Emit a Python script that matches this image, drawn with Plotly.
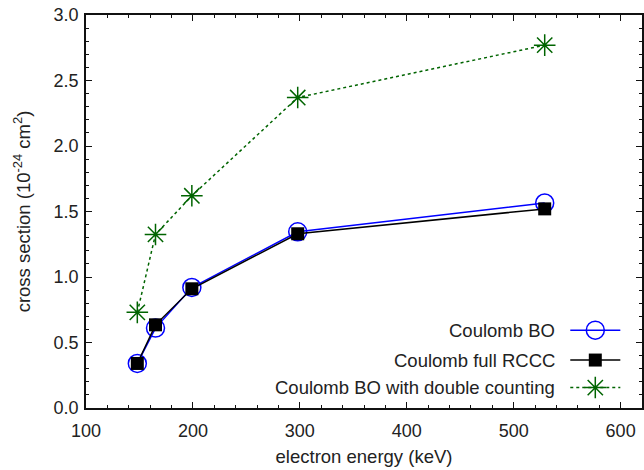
import plotly.graph_objects as go

# ---- data ----
energy = [148, 165, 199, 298, 529]
bo = [0.34, 0.61, 0.92, 1.345, 1.565]
rccc = [0.34, 0.635, 0.91, 1.33, 1.52]
bo_dc = [0.73, 1.325, 1.62, 2.37, 2.77]
names = ["Coulomb BO", "Coulomb full RCCC", "Coulomb BO with double counting"]
x_ticks = [100, 200, 300, 400, 500, 600]

BLUE = "#0000ff"
BLACK = "#000000"
GREEN = "#006400"
TXT = "#222222"
FONT = "Liberation Sans, Arial, sans-serif"

styles = [
    dict(line=dict(color=BLUE, width=1.5),
         marker=dict(symbol="circle-open", size=18, color=BLUE, line=dict(width=1.5, color=BLUE))),
    dict(line=dict(color=BLACK, width=1.5),
         marker=dict(symbol="square", size=13, color=BLACK, line=dict(width=0))),
    dict(line=dict(color=GREEN, width=1.5, dash="dot"),
         marker=dict(symbol="asterisk-open", size=18, color=GREEN, line=dict(width=1.5, color=GREEN))),
]

fig = go.Figure()
for ys, name, st in zip([bo, rccc, bo_dc], names, styles):
    fig.add_trace(go.Scatter(x=energy, y=ys, name=name, mode="lines+markers",
                             showlegend=False, cliponaxis=False, **st))

# legend (gnuplot style: text on the left, sample on the right), drawn on an overlay axis
leg_rows = [0.198, 0.122, 0.052]
leg_x0, leg_x1, leg_text_x = 0.871, 0.961, 0.848
for name, st, yy in zip(names, styles, leg_rows):
    fig.add_trace(go.Scatter(x=[leg_x0, leg_x1], y=[yy, yy], mode="lines", line=st["line"],
                             xaxis="x2", yaxis="y2", showlegend=False, hoverinfo="skip"))
    fig.add_trace(go.Scatter(x=[(leg_x0 + leg_x1) / 2], y=[yy], mode="markers", marker=st["marker"],
                             xaxis="x2", yaxis="y2", showlegend=False, hoverinfo="skip"))
    fig.add_annotation(x=leg_text_x, y=yy, xref="paper", yref="paper", text=name,
                       showarrow=False, xanchor="right", yanchor="middle",
                       font=dict(family=FONT, size=18.5, color=TXT))

axis_common = dict(
    showline=True, linecolor="#111111", linewidth=1.5, mirror="allticks",
    ticks="inside", ticklen=6, tickwidth=1, tickcolor="#111111",
    showgrid=False, zeroline=False,
    tickfont=dict(family=FONT, size=18, color=TXT),
)

fig.update_layout(
    width=644, height=470,
    margin=dict(l=86, r=0, t=15, b=62),
    plot_bgcolor="white", paper_bgcolor="white",
    font=dict(family=FONT, color=TXT),
    xaxis=dict(range=[100, 620], tickvals=x_ticks, ticklabelstandoff=6,
               minor=dict(dtick=20, ticks="inside", ticklen=3, tickcolor="#111111", showgrid=False),
               title=dict(text="electron energy (keV)", font=dict(family=FONT, size=18.5, color=TXT), standoff=10),
               **axis_common),
    yaxis=dict(range=[0, 3], dtick=0.5, tickformat=".1f", ticklabelstandoff=2,
               minor=dict(dtick=0.1, ticks="inside", ticklen=3, tickcolor="#111111", showgrid=False),
               title=dict(text="cross section (10<sup>-24</sup> cm<sup>2</sup>)",
                          font=dict(family=FONT, size=18.5, color=TXT), standoff=18),
               **axis_common),
    xaxis2=dict(overlaying="x", range=[0, 1], visible=False),
    yaxis2=dict(overlaying="y", range=[0, 1], visible=False),
)

fig.write_html("out.html")
